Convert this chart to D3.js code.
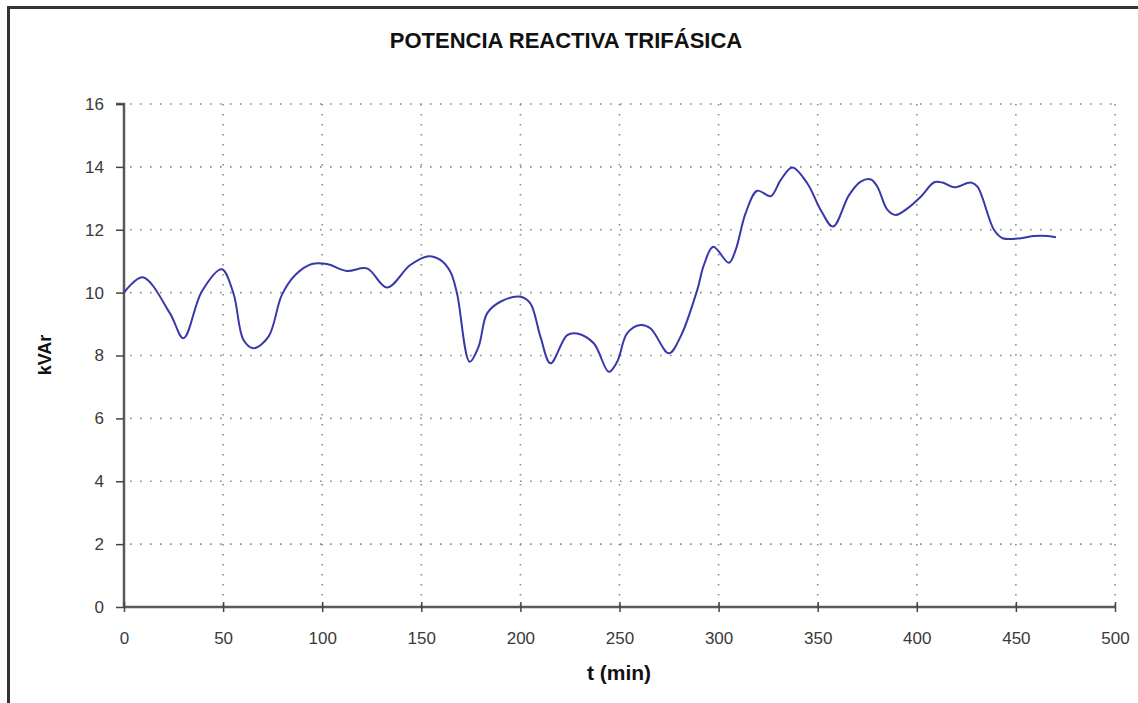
<!DOCTYPE html>
<html>
<head>
<meta charset="utf-8">
<script src="https://cdn.jsdelivr.net/npm/d3@7"></script>
<style>
  html, body { margin: 0; padding: 0; background: #ffffff; }
  svg { display: block; }
  text { font-family: "Liberation Sans", Arial, sans-serif; }
</style>
</head>
<body>
<svg id="chart" width="1138" height="703"></svg>
<script>
// ---- data ----
const title = "POTENCIA REACTIVA TRIFÁSICA";
const xLabel = "t (min)";
const yLabel = "kVAr";
const xTicks = [0, 50, 100, 150, 200, 250, 300, 350, 400, 450, 500];
const yTicks = [0, 2, 4, 6, 8, 10, 12, 14, 16];
const timeMin = [0, 9.4, 23.2, 30, 39.2, 49.3, 55.2, 60.3, 65.3, 72.9, 79.6, 86.4, 94.8, 102.4,
  112.5, 122.6, 132.7, 144.4, 153.7, 159.6, 164.6, 168, 174.4, 178.9, 183.2, 189.9, 200, 205,
  210.1, 215.2, 223.6, 228.6, 237, 244.6, 248.8, 253.9, 260.6, 265.7, 274.9, 280.8, 289.2,
  292.6, 297.3, 305.2, 308.6, 313.6, 319.5, 326.3, 331.3, 337.2, 344.8, 351.5, 357.7, 365.8,
  371.7, 376.8, 380.1, 385.2, 389.4, 395.3, 402, 408.8, 413, 418.8, 427.3, 430.6, 439, 443.3,
  452.5, 459.2, 466, 470.2];
const kvar = [10.0, 10.49, 9.34, 8.55, 10.03, 10.74, 9.98, 8.49, 8.23, 8.6, 9.92, 10.56, 10.91, 10.91,
  10.69, 10.77, 10.16, 10.88, 11.16, 11.04, 10.67, 9.98, 7.80, 8.28, 9.34, 9.71, 9.87, 9.66,
  8.6, 7.75, 8.65, 8.70, 8.39, 7.48, 7.80, 8.71, 8.97, 8.86, 8.07, 8.6, 10.08,
  10.88, 11.46, 10.95, 11.36, 12.52, 13.24, 13.07, 13.58, 13.98, 13.47, 12.63, 12.10, 13.1,
  13.53, 13.60, 13.37, 12.63, 12.47, 12.68, 13.05, 13.51, 13.5, 13.35, 13.5, 13.37, 11.99, 11.73,
  11.73, 11.80, 11.8, 11.76];

// ---- layout ----
const svg = d3.select("#chart");
const x = d3.scaleLinear().domain([0, 500]).range([124, 1115]);
const y = d3.scaleLinear().domain([0, 16]).range([607, 104]);

// outer frame (extends beyond the right/bottom edges)
svg.append("rect")
  .attr("x", 8.5).attr("y", 7.5)
  .attr("width", 1200).attr("height", 800)
  .attr("fill", "none").attr("stroke", "#333").attr("stroke-width", 3);

// grid
const grid = svg.append("g").attr("stroke", "#8a8a8a").attr("stroke-width", 1.6)
  .attr("stroke-dasharray", "1.6,8.4").attr("fill", "none");
yTicks.filter(d => d > 0).forEach(d => {
  grid.append("line").attr("x1", x(0) + 6).attr("x2", x(500)).attr("y1", y(d)).attr("y2", y(d));
});
xTicks.filter(d => d > 0).forEach(d => {
  grid.append("line").attr("x1", x(d)).attr("x2", x(d)).attr("y1", y(16)).attr("y2", y(0));
});

// axes
const yAxis = svg.append("g").attr("transform", `translate(${x(0)},0)`)
  .call(d3.axisLeft(y).tickValues(yTicks).tickSize(8).tickPadding(12).tickFormat(d3.format("d")));
const xAxis = svg.append("g").attr("transform", `translate(0,${y(0)})`)
  .call(d3.axisBottom(x).tickValues(xTicks).tickSize(5).tickPadding(20).tickFormat(d3.format("d")));
[yAxis, xAxis].forEach(a => {
  a.select(".domain").attr("stroke", "#5a5a5a").attr("stroke-width", 2.5);
  a.selectAll(".tick line").attr("stroke", "#444").attr("stroke-width", 1.5);
  a.selectAll(".tick text").attr("fill", "#3a3a3a").style("font-size", "17px")
    .style("font-family", "'Liberation Sans', Arial, sans-serif");
});
yAxis.select(".domain").attr("d", `M-8,${y(16)}H0V${y(0)}`);
xAxis.selectAll(".tick line").attr("y1", -5).attr("y2", 5);
xAxis.select(".domain").attr("d", `M${x(0)},0H${x(500)}`);

// line
const line = d3.line()
  .x((d, i) => x(timeMin[i]))
  .y(d => y(d))
  .curve(d3.curveCatmullRom.alpha(0.5));
svg.append("path").datum(kvar)
  .attr("d", line)
  .attr("fill", "none").attr("stroke", "#3838a8").attr("stroke-width", 2);

// texts
svg.append("text").attr("x", 566).attr("y", 48).attr("text-anchor", "middle")
  .style("font-size", "22px").style("font-weight", "bold").attr("fill", "#111").text(title);
svg.append("text").attr("x", 619).attr("y", 680).attr("text-anchor", "middle")
  .style("font-size", "21px").style("font-weight", "bold").attr("fill", "#111").text(xLabel);
svg.append("text").attr("transform", "translate(51,355) rotate(-90)").attr("text-anchor", "middle")
  .style("font-size", "18px").style("font-weight", "bold").attr("fill", "#111").text(yLabel);
</script>
</body>
</html>
